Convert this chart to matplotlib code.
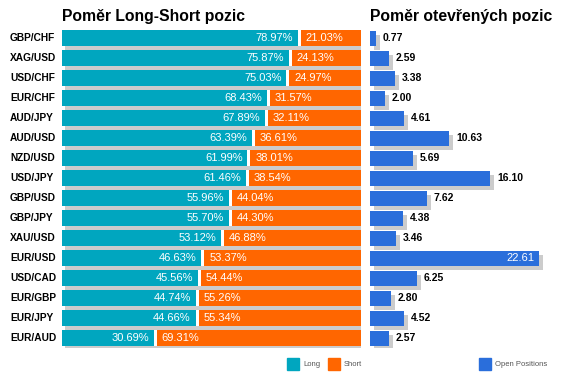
import matplotlib
matplotlib.use("Agg")
import matplotlib.pyplot as plt
import matplotlib.transforms as mtransforms
from matplotlib.patches import Rectangle

pairs = ["GBP/CHF", "XAG/USD", "USD/CHF", "EUR/CHF", "AUD/JPY", "AUD/USD", "NZD/USD", "USD/JPY",
         "GBP/USD", "GBP/JPY", "XAU/USD", "EUR/USD", "USD/CAD", "EUR/GBP", "EUR/JPY", "EUR/AUD"]
long_pct = [78.97, 75.87, 75.03, 68.43, 67.89, 63.39, 61.99, 61.46,
            55.96, 55.70, 53.12, 46.63, 45.56, 44.74, 44.66, 30.69]
short_pct = [21.03, 24.13, 24.97, 31.57, 32.11, 36.61, 38.01, 38.54,
             44.04, 44.30, 46.88, 53.37, 54.44, 55.26, 55.34, 69.31]
open_pos = [0.77, 2.59, 3.38, 2.00, 4.61, 10.63, 5.69, 16.10,
            7.62, 4.38, 3.46, 22.61, 6.25, 2.80, 4.52, 2.57]

C_LONG = "#00A6BF"
C_SHORT = "#FF6600"
C_OPEN = "#2A6EDB"
C_SHADOW = "#CCCCCC"
FONT = "Liberation Sans"

W, H = 566, 379
fig = plt.figure(figsize=(W / 100, H / 100), dpi=100)
fig.patch.set_facecolor("white")

def px_axes(x0, y_top, w, h):
    return fig.add_axes([x0 / W, 1 - (y_top + h) / H, w / W, h / H])

n = len(pairs)
ys = list(range(n))
bh = 0.8
gap = 3 / 299 * 100  # white gap between long and short

ax1 = px_axes(62, 28, 299, 320)
ax2 = px_axes(370, 28, 190, 320)

shadow1 = mtransforms.ScaledTranslation(3 / 100, -4 / 100, fig.dpi_scale_trans)
shadow2 = mtransforms.ScaledTranslation(4 / 100, -4 / 100, fig.dpi_scale_trans)

# long / short bars
ax1.barh(ys, [100] * n, height=bh, color=C_SHADOW, zorder=1,
         transform=ax1.transData + shadow1)
ax1.barh(ys, long_pct, height=bh, color=C_LONG, zorder=2)
ax1.barh(ys, [s - gap for s in short_pct], left=[l + gap for l in long_pct],
         height=bh, color=C_SHORT, zorder=3)
ax1.barh(ys, [gap] * n, left=long_pct, height=bh, color="white", zorder=3, linewidth=0)
for y, l, s in zip(ys, long_pct, short_pct):
    ax1.text(l - 1.6, y, f"{l:.2f}%", ha="right", va="center", color="white",
             fontsize=8, family=FONT, zorder=4)
    ax1.text(l + gap + 1.6, y, f"{s:.2f}%", ha="left", va="center", color="white",
             fontsize=8, family=FONT, zorder=4)
ax1.set_xlim(0, 100)
ax1.set_ylim(n - 0.5, -0.5)
ax1.axis("off")
lab_tr = mtransforms.blended_transform_factory(fig.transFigure, ax1.transData)
for y, p in zip(ys, pairs):
    ax1.text(10 / W, y, p, ha="left", va="center", fontsize=7.3, fontweight="bold",
             family=FONT, transform=lab_tr)

# open positions
xmax2 = 190 / 7.47
ax2.barh(ys, open_pos, height=bh * 15 / 16, color=C_SHADOW, zorder=1,
         transform=ax2.transData + shadow2)
ax2.barh(ys, open_pos, height=bh * 15 / 16, color=C_OPEN, zorder=2)
for y, v in zip(ys, open_pos):
    if v + 4 > xmax2:
        ax2.text(v - 0.6, y, f"{v:.2f}", ha="right", va="center", color="white",
                 fontsize=8, family=FONT, zorder=4)
    else:
        ax2.text(v + 0.9, y, f"{v:.2f}", ha="left", va="center", color="black",
                 fontsize=7.5, fontweight="bold", family=FONT, zorder=4)
ax2.set_xlim(0, xmax2)
ax2.set_ylim(n - 0.5, -0.5)
ax2.axis("off")

# titles
fig.text(62 / W, 1 - 17 / H, "Poměr Long-Short pozic", ha="left", va="center",
         fontsize=11.3, fontweight="bold", family=FONT)
fig.text(370 / W, 1 - 17 / H, "Poměr otevřených pozic", ha="left", va="center",
         fontsize=11.3, fontweight="bold", family=FONT)

# legend
def legend_item(x, label, color):
    fig.patches.append(Rectangle((x / W, 1 - 370 / H), 12 / W, 12 / H, color=color,
                                 transform=fig.transFigure, figure=fig))
    fig.text((x + 16) / W, 1 - 364 / H, label, ha="left", va="center",
             fontsize=5.5, color="#555555", family=FONT)

legend_item(287, "Long", C_LONG)
legend_item(328, "Short", C_SHORT)
legend_item(479, "Open Positions", C_OPEN)

fig.savefig("out.png", dpi=100)
